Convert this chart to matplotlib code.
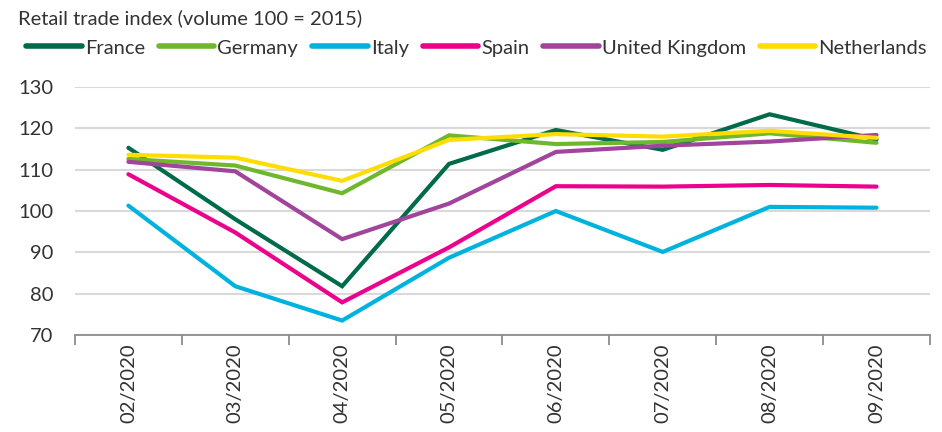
import matplotlib
matplotlib.use("Agg")
import matplotlib.pyplot as plt
from matplotlib.ticker import FixedLocator

plt.rcParams['font.family'] = ['Lato', 'DejaVu Sans']

months = ["02/2020", "03/2020", "04/2020", "05/2020", "06/2020", "07/2020", "08/2020", "09/2020"]
france = [115.3, 98.0, 81.8, 111.4, 119.6, 114.8, 123.4, 117.3]
germany = [112.6, 111.0, 104.3, 118.3, 116.2, 116.7, 118.8, 116.5]
italy = [101.3, 81.8, 73.5, 88.7, 100.0, 90.1, 101.0, 100.8]
spain = [108.9, 94.8, 77.9, 91.2, 106.0, 105.9, 106.3, 105.9]
uk = [111.9, 109.6, 93.2, 101.8, 114.3, 115.8, 116.8, 118.4]
netherlands = [113.6, 112.9, 107.3, 117.2, 118.6, 118.0, 119.4, 117.7]

series = [
    ("France", france, "#006b4a"),
    ("Germany", germany, "#6fb72b"),
    ("Italy", italy, "#00b3de"),
    ("Spain", spain, "#ec008c"),
    ("United Kingdom", uk, "#a0459b"),
    ("Netherlands", netherlands, "#ffdd00"),
]

text_color = "#333333"
fs = 14.5

fig = plt.figure(figsize=(9.42, 4.32), dpi=100)
ax = fig.add_axes([0.0796, 0.2245, 0.9076, 0.5741])

x = list(range(len(months)))
for name, vals, col in series:
    ax.plot(x, vals, color=col, lw=3.0, label=name, solid_capstyle='round', solid_joinstyle='miter')

ax.set_xlim(-0.5, len(months) - 0.5)
ax.set_ylim(70, 130)
ax.set_yticks(range(70, 131, 10))
ax.grid(axis='y', color='#d9d9d9', lw=1.5)
ax.set_axisbelow(True)
for s in ['top', 'right', 'left']:
    ax.spines[s].set_visible(False)
ax.spines['bottom'].set_color('#8c8c8c')
ax.spines['bottom'].set_linewidth(1.3)

ax.set_xticks(x)
ax.set_xticklabels(months, rotation=90, fontsize=fs, color=text_color)
ax.xaxis.set_minor_locator(FixedLocator([i - 0.5 for i in range(len(months) + 1)]))
ax.tick_params(axis='x', which='major', length=0, pad=6)
ax.tick_params(axis='x', which='minor', length=7, width=1.3, color='#8c8c8c')
ax.tick_params(axis='y', length=0, labelsize=fs, labelcolor=text_color, pad=15.5)

fig.text(0.019, 0.958, "Retail trade index (volume 100 = 2015)", fontsize=fs,
         color=text_color, va='center', ha='left')

leg = fig.legend(loc='center left', bbox_to_anchor=(0.028, 0.889), ncol=6, frameon=False,
                 fontsize=fs, handlelength=2.75, handletextpad=0.15, columnspacing=0.7,
                 borderaxespad=0, borderpad=0)
for t in leg.get_texts():
    t.set_color(text_color)
for h in leg.get_lines():
    h.set_linewidth(4)

fig.savefig("out.png", dpi=100)
